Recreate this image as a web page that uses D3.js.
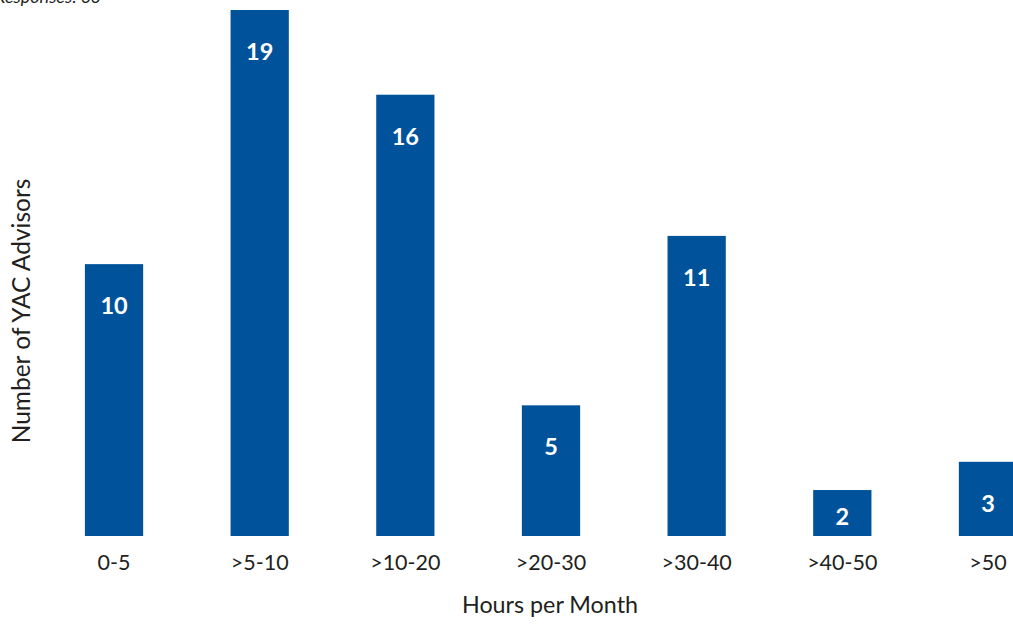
<!DOCTYPE html>
<html>
<head>
<meta charset="utf-8">
<script src="https://cdn.jsdelivr.net/npm/d3@7"></script>
<style>
  html, body { margin: 0; padding: 0; background: #fff; overflow: hidden; }
  svg { display: block; font-family: Lato, "Open Sans", sans-serif; }
</style>
</head>
<body>
<svg id="chart" width="1013" height="625"></svg>
<script>
const categories = ["0-5", ">5-10", ">10-20", ">20-30", ">30-40", ">40-50", ">50"];
const values = [10, 19, 16, 5, 11, 2, 3];
const noteText = "Responses: 66";
const xTitle = "Hours per Month";
const yTitle = "Number of YAC Advisors";

const W = 1013, H = 625;
const svg = d3.select("#chart");
const barColor = "#00539b";
const textColor = "#231f20";

const baseline = 536;
const x = d3.scaleBand().domain(categories).range([41.2, 1060.8]).paddingInner(0.6).paddingOuter(0.3);
const y = d3.scaleLinear().domain([0, 19]).range([546.5, 10]);

svg.append("defs").append("clipPath").attr("id", "plotclip")
  .append("rect").attr("x", 0).attr("y", 0).attr("width", W).attr("height", baseline);

const g = svg.append("g").attr("clip-path", "url(#plotclip)");
g.selectAll("rect.bar").data(values).enter().append("rect")
  .attr("class", "bar")
  .attr("x", (d, i) => x(categories[i]))
  .attr("y", d => y(d))
  .attr("width", x.bandwidth())
  .attr("height", d => y(0) - y(d))
  .attr("fill", barColor);

svg.selectAll("text.val").data(values).enter().append("text")
  .attr("class", "val")
  .attr("x", (d, i) => x(categories[i]) + x.bandwidth() / 2)
  .attr("y", d => Math.min(y(d) + 50, baseline - 11))
  .attr("text-anchor", "middle")
  .attr("fill", "#fff")
  .attr("font-weight", 700)
  .attr("font-size", 23.5)
  .text(d => d);

// x axis labels
const xAxis = d3.axisBottom(x).tickSize(0).tickPadding(0);
const ax = svg.append("g").attr("transform", `translate(0,${baseline})`).call(xAxis);
ax.select(".domain").remove();
ax.selectAll("text")
  .attr("dy", 0).attr("y", 34)
  .attr("font-size", 21.5).attr("font-family", "Lato, 'Open Sans', sans-serif")
  .attr("fill", textColor);

svg.append("text")
  .attr("x", 550).attr("y", 613)
  .attr("text-anchor", "middle")
  .attr("font-size", 23.3)
  .attr("fill", textColor)
  .text(xTitle);

svg.append("text")
  .attr("transform", "translate(30,311) rotate(-90)")
  .attr("text-anchor", "middle")
  .attr("font-size", 24.5)
  .attr("fill", textColor)
  .text(yTitle);

svg.append("text")
  .attr("x", -5).attr("y", 3)
  .attr("font-size", 18)
  .attr("font-style", "italic")
  .attr("fill", textColor)
  .text(noteText);
</script>
</body>
</html>
